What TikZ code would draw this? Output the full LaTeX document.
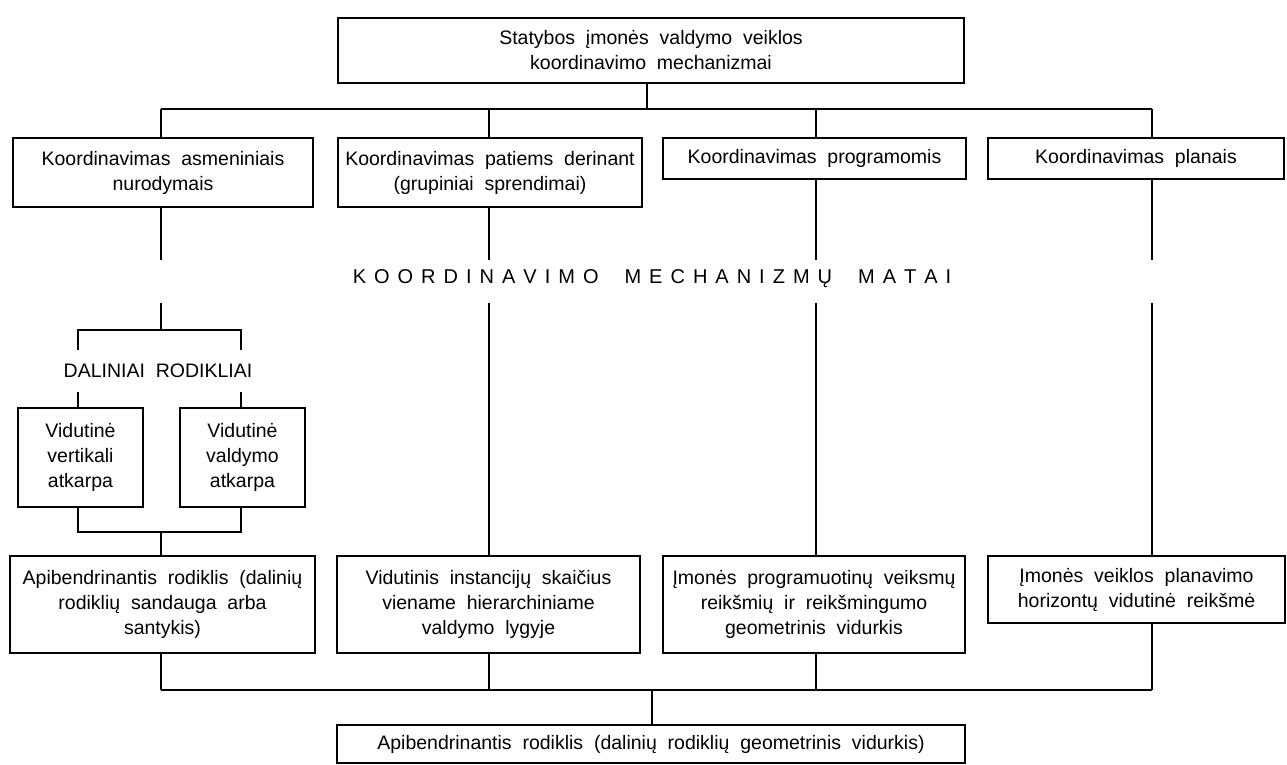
\documentclass[tikz,border=0pt]{standalone}
\usepackage{fontspec}
\setmainfont[WordSpace=2]{Liberation Sans}
\newcommand\ls{\hspace{8pt}}
\newcommand\ws{\hspace{26pt}}
\begin{document}
\begin{tikzpicture}[x=1pt,y=-1pt,
  box/.style={draw, line width=1.7pt, inner sep=0pt, align=center,
    font=\fontsize{19.5}{25}\selectfont},
  conn/.style={line width=1.2pt},
  lab/.style={inner sep=0pt, font=\fontsize{19.5}{25}\selectfont}]
\useasboundingbox (0,0) rectangle (1287,764);
% top
\node[box, minimum width=626pt, minimum height=65pt] (top) at (651,50.5)
  {Statybos įmonės valdymo veiklos\\koordinavimo mechanizmai};
% row 1
\node[box, minimum width=300pt, minimum height=69pt] (A) at (163,172.5)
  {Koordinavimas asmeniniais\\nurodymais};
\node[box, minimum width=304pt, minimum height=69pt] (B) at (490,172.5)
  {Koordinavimas patiems derinant\\(grupiniai sprendimai)};
\node[box, minimum width=303pt, minimum height=41pt] (C) at (814.5,158.5)
  {Koordinavimas programomis};
\node[box, minimum width=296pt, minimum height=41pt] (D) at (1136,158.5)
  {Koordinavimas planais};
% heading
\node[lab, font=\fontsize{20}{25}\selectfont] (mt) at (652,279)
  {K\ls O\ls O\ls R\ls D\ls I\ls N\ls A\ls V\ls I\ls M\ls O\ws M\ls E\ls C\ls H\ls A\ls N\ls I\ls Z\ls M\ls Ų\ws M\ls A\ls T\ls A\ls I};
% partial indicators
\node[lab] (dr) at (158,371) {DALINIAI RODIKLIAI};
\node[box, minimum width=125pt, minimum height=99pt] (SL) at (80.5,457.5)
  {Vidutinė\\vertikali\\atkarpa};
\node[box, minimum width=125pt, minimum height=99pt] (SR) at (242.5,457.5)
  {Vidutinė\\valdymo\\atkarpa};
% row 2
\node[box, minimum width=305pt, minimum height=97pt] (A2) at (162.5,604.5)
  {Apibendrinantis rodiklis (dalinių\\rodiklių sandauga arba\\santykis)};
\node[box, minimum width=303pt, minimum height=97pt] (B2) at (488.5,604.5)
  {Vidutinis instancijų skaičius\\viename hierarchiniame\\valdymo lygyje};
\node[box, minimum width=302pt, minimum height=97pt] (C2) at (814,604.5)
  {Įmonės programuotinų veiksmų\\reikšmių ir reikšmingumo\\geometrinis vidurkis};
\node[box, minimum width=297pt, minimum height=67pt] (D2) at (1136.5,589.5)
  {Įmonės veiklos planavimo\\horizontų vidutinė reikšmė};
% bottom
\node[box, minimum width=628pt, minimum height=38pt] (bot) at (651,744)
  {Apibendrinantis rodiklis (dalinių rodiklių geometrinis vidurkis)};
% junction coordinates
\coordinate (j0) at (647,109);
\coordinate (jA) at (161,109);
\coordinate (jB) at (489,109);
\coordinate (jC) at (816,109);
\coordinate (jD) at (1152,109);
\coordinate (gA1) at (161,260); \coordinate (gA2) at (161,303);
\coordinate (gB1) at (489,260); \coordinate (gB2) at (489,303);
\coordinate (gC1) at (816,260); \coordinate (gC2) at (816,303);
\coordinate (gD1) at (1152,260); \coordinate (gD2) at (1152,303);
\coordinate (br) at (161,330);
\coordinate (brL) at (78,330); \coordinate (brR) at (241,330);
\coordinate (sL1) at (78,350); \coordinate (sL2) at (78,392);
\coordinate (sR1) at (241,350); \coordinate (sR2) at (241,392);
\coordinate (jbL) at (78,532); \coordinate (jbR) at (241,532);
\coordinate (jb) at (161,532);
\coordinate (k0) at (652,690);
\coordinate (kA) at (161,690);
\coordinate (kB) at (489,690);
\coordinate (kC) at (816,690);
\coordinate (kD) at (1152,690);
% connectors top
\draw[conn] (top.south -| j0) -- (j0);
\draw[conn] (jA) -- (jD);
\draw[conn] (jA) -- (jA |- A.north);
\draw[conn] (jB) -- (jB |- B.north);
\draw[conn] (jC) -- (jC |- C.north);
\draw[conn] (jD) -- (jD |- D.north);
% verticals through heading level
\draw[conn] (gA1 |- A.south) -- (gA1);
\draw[conn] (gB1 |- B.south) -- (gB1);
\draw[conn] (gC1 |- C.south) -- (gC1);
\draw[conn] (gD1 |- D.south) -- (gD1);
\draw[conn] (gA2) -- (br);
\draw[conn] (gB2) -- (gB2 |- B2.north);
\draw[conn] (gC2) -- (gC2 |- C2.north);
\draw[conn] (gD2) -- (gD2 |- D2.north);
% partial bracket
\draw[conn] (sL1) -- (brL) -- (brR) -- (sR1);
\draw[conn] (sL2) -- (sL2 |- SL.north);
\draw[conn] (sR2) -- (sR2 |- SR.north);
\draw[conn] (jbL |- SL.south) -- (jbL) -- (jbR) -- (jbR |- SR.south);
\draw[conn] (jb) -- (jb |- A2.north);
% bottom
\draw[conn] (kA |- A2.south) -- (kA);
\draw[conn] (kB |- B2.south) -- (kB);
\draw[conn] (kC |- C2.south) -- (kC);
\draw[conn] (kD |- D2.south) -- (kD);
\draw[conn] (kA) -- (kD);
\draw[conn] (k0) -- (k0 |- bot.north);
\end{tikzpicture}
\end{document}
